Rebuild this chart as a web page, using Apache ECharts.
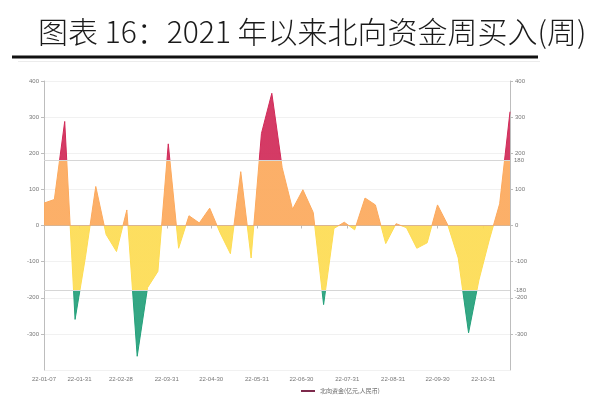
<!DOCTYPE html>
<html>
<head>
<meta charset="utf-8">
<script src="https://cdn.jsdelivr.net/npm/echarts@6/dist/echarts.min.js"></script>
<style>
html,body{margin:0;padding:0;background:#fff;}
#main{width:600px;height:403px;}
</style>
</head>
<body>
<div id="main"></div>
<script>
const titleText = '图表 16：2021 年以来北向资金周买入(周)';
const seriesName = '北向资金(亿元,人民币)';
const weekDates = [
  '2022-01-07','2022-01-14','2022-01-21','2022-01-28',
  '2022-02-04','2022-02-11','2022-02-18','2022-02-25',
  '2022-03-04','2022-03-11','2022-03-18','2022-03-25',
  '2022-04-01','2022-04-08','2022-04-15','2022-04-22','2022-04-29',
  '2022-05-06','2022-05-13','2022-05-20','2022-05-27',
  '2022-06-03','2022-06-10','2022-06-17','2022-06-24',
  '2022-07-01','2022-07-08','2022-07-15','2022-07-22','2022-07-29',
  '2022-08-05','2022-08-12','2022-08-19','2022-08-26',
  '2022-09-02','2022-09-09','2022-09-16','2022-09-23','2022-09-30',
  '2022-10-07','2022-10-14','2022-10-21','2022-10-28',
  '2022-11-04','2022-11-11','2022-11-18'
];
const weeklyFlow = [
  62, 72, 288, -260, -88, 108, -25, -72, 43, -362,
  -172, -127, 226, -63, 27, 7, 48, -20, -78, 149,
  -90, 255, 366, 160, 45, 99, 36, -219, -8, 9,
  -12, 76, 57, -50, 5, -6, -63, -48, 57, 1,
  -90, -297, -151, -40, 60, 315
];
const xTickDates = ['2022-01-07','2022-01-31','2022-02-28','2022-03-31','2022-04-30','2022-05-31',
  '2022-06-30','2022-07-31','2022-08-31','2022-09-30','2022-10-31'];
const yTicks = [-400, -300, -200, -100, 0, 100, 200, 300, 400];
const thresholds = [180, -180];

const DAY = 86400000;
function ts(s){ const p = s.split('-').map(Number); return Date.UTC(p[0], p[1]-1, p[2]) / DAY; }

const chart = echarts.init(document.getElementById('main'), null, {renderer:'canvas'});
const tickVals = xTickDates.map(ts);
const fmt = v => { const d = new Date(Math.round(v) * DAY); const yy = String(d.getUTCFullYear()).slice(2);
  const mm = String(d.getUTCMonth()+1).padStart(2,'0'); const dd = String(d.getUTCDate()).padStart(2,'0');
  return yy + '-' + mm + '-' + dd; };

const axisGray = '#bdbdbd';
const labelGray = '#777';

chart.setOption({
  animation: false,
  title: {
    text: titleText, left: 33, top: 12,
    textStyle: {fontFamily: 'Noto Sans CJK SC', fontWeight: 300, fontSize: 30, color: '#1a1a1a'}
  },
  graphic: [
    {type: 'line', shape: {x1: 12, y1: 57, x2: 538, y2: 57}, style: {stroke: '#111', lineWidth: 3}},
    {type: 'line', shape: {x1: 18, y1: 61.5, x2: 540, y2: 61.5}, style: {stroke: '#ececec', lineWidth: 1}}
  ],
  grid: {left: 44, right: 90, top: 81, bottom: 33},
  legend: {
    left: 296, bottom: 4, itemWidth: 14, itemHeight: 2, icon: 'rect',
    textStyle: {fontSize: 6, color: '#666', fontFamily: 'Noto Sans CJK SC'},
    data: [seriesName]
  },
  xAxis: {
    type: 'value', min: ts(weekDates[0]), max: ts(weekDates[weekDates.length-1]),
    axisLine: {lineStyle: {color: axisGray}},
    axisTick: {show: true, customValues: tickVals, length: 3, lineStyle: {color: axisGray}},
    axisLabel: {customValues: tickVals, formatter: fmt, fontSize: 6, color: labelGray, margin: 6},
    splitLine: {show: false}
  },
  yAxis: [
    {type: 'value', min: yTicks[0], max: yTicks[yTicks.length-1], interval: 100, position: 'left',
     axisLine: {show: true, lineStyle: {color: axisGray}},
     axisTick: {show: true, length: 3, lineStyle: {color: axisGray}},
     axisLabel: {fontSize: 6, color: labelGray, margin: 5, showMinLabel: false},
     splitLine: {show: true, lineStyle: {color: '#f1f1f1'}}},
    {type: 'value', min: yTicks[0], max: yTicks[yTicks.length-1], interval: 100, position: 'right',
     axisLine: {show: true, lineStyle: {color: axisGray}},
     axisTick: {show: true, length: 3, lineStyle: {color: axisGray}},
     axisLabel: {fontSize: 6, color: labelGray, margin: 5, showMinLabel: false},
     splitLine: {show: false}}
  ],
  visualMap: {
    type: 'piecewise', show: false, dimension: 1, seriesIndex: 0,
    pieces: [
      {gt: 180, color: '#d12a58'},
      {gt: 0, lte: 180, color: '#fca95c'},
      {gt: -180, lte: 0, color: '#fddc52'},
      {lte: -180, color: '#23a07a'}
    ]
  },
  series: [{
    name: seriesName, type: 'line', color: '#7d2a4c',
    data: weekDates.map((d, i) => [ts(d), weeklyFlow[i]]),
    showSymbol: false, symbol: 'none',
    lineStyle: {width: 1},
    areaStyle: {opacity: 0.92},
    markLine: {
      silent: true, symbol: ['none', 'none'],
      lineStyle: {color: '#d6d6d6', type: 'solid', width: 1},
      label: {position: 'end', fontSize: 6, color: '#777', distance: 4},
      data: thresholds.map(t => ({yAxis: t}))
    }
  }]
});
</script>
</body>
</html>
